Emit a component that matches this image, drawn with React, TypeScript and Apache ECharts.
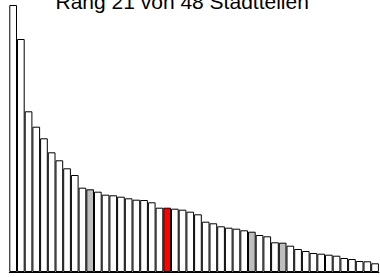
import React, { useEffect, useRef } from "react";
import * as echarts from "echarts";

const titleText = "Rang 21 von 48 Stadtteilen";
const districts: string[] = Array.from({ length: 48 }, (_, i) => `S${i + 1}`);
const values: number[] = [
  267, 233, 160.7, 145.3, 133.7, 119.7, 111.7, 103.7, 97, 84.3,
  82.7, 80.3, 77.3, 76.7, 75.3, 73.7, 72.3, 72, 69.7, 64.3,
  64.3, 63.3, 62.3, 60.3, 57.7, 50.3, 48.7, 45.7, 44.3, 43.3,
  41.7, 40.3, 37, 35.7, 29.7, 29.3, 26.3, 23, 21, 19,
  18.3, 17.3, 16.3, 14, 13, 11, 10.7, 8.7,
];
const highlightIndex = 20;
const grayIndices: number[] = [10, 31, 35];

export default function App() {
  const ref = useRef<HTMLDivElement>(null);
  useEffect(() => {
    if (!ref.current) return;
    const chart = echarts.init(ref.current, undefined, { renderer: "svg" });
    chart.setOption({
      animation: false,
      graphic: [
        {
          type: "text",
          left: 55.5,
          top: -9,
          style: {
            text: titleText,
            fontSize: 21,
            fontFamily: "Liberation Sans, Arial, sans-serif",
            fill: "#000",
          },
        },
      ],
      grid: { left: 9.3, right: 1.1, top: 5, bottom: 5 },
      xAxis: {
        type: "category",
        data: districts,
        axisLine: { show: true, lineStyle: { color: "#000", width: 1 } },
        axisTick: { show: false },
        axisLabel: { show: false },
      },
      yAxis: {
        type: "value",
        min: 0,
        max: 267,
        show: false,
        splitLine: { show: false },
      },
      series: [
        {
          type: "bar",
          barCategoryGap: 0,
          data: values.map((v, i) => ({
            value: v,
            itemStyle: {
              color:
                i === highlightIndex
                  ? "#ff0000"
                  : grayIndices.includes(i)
                  ? "#bebebe"
                  : "#ffffff",
            },
          })),
          itemStyle: { borderColor: "#000", borderWidth: 1 },
        },
      ],
    });
    return () => chart.dispose();
  }, []);
  return (
    <div
      ref={ref}
      style={{ width: 380, height: 277, position: "absolute", left: 0, top: 0 }}
    />
  );
}
